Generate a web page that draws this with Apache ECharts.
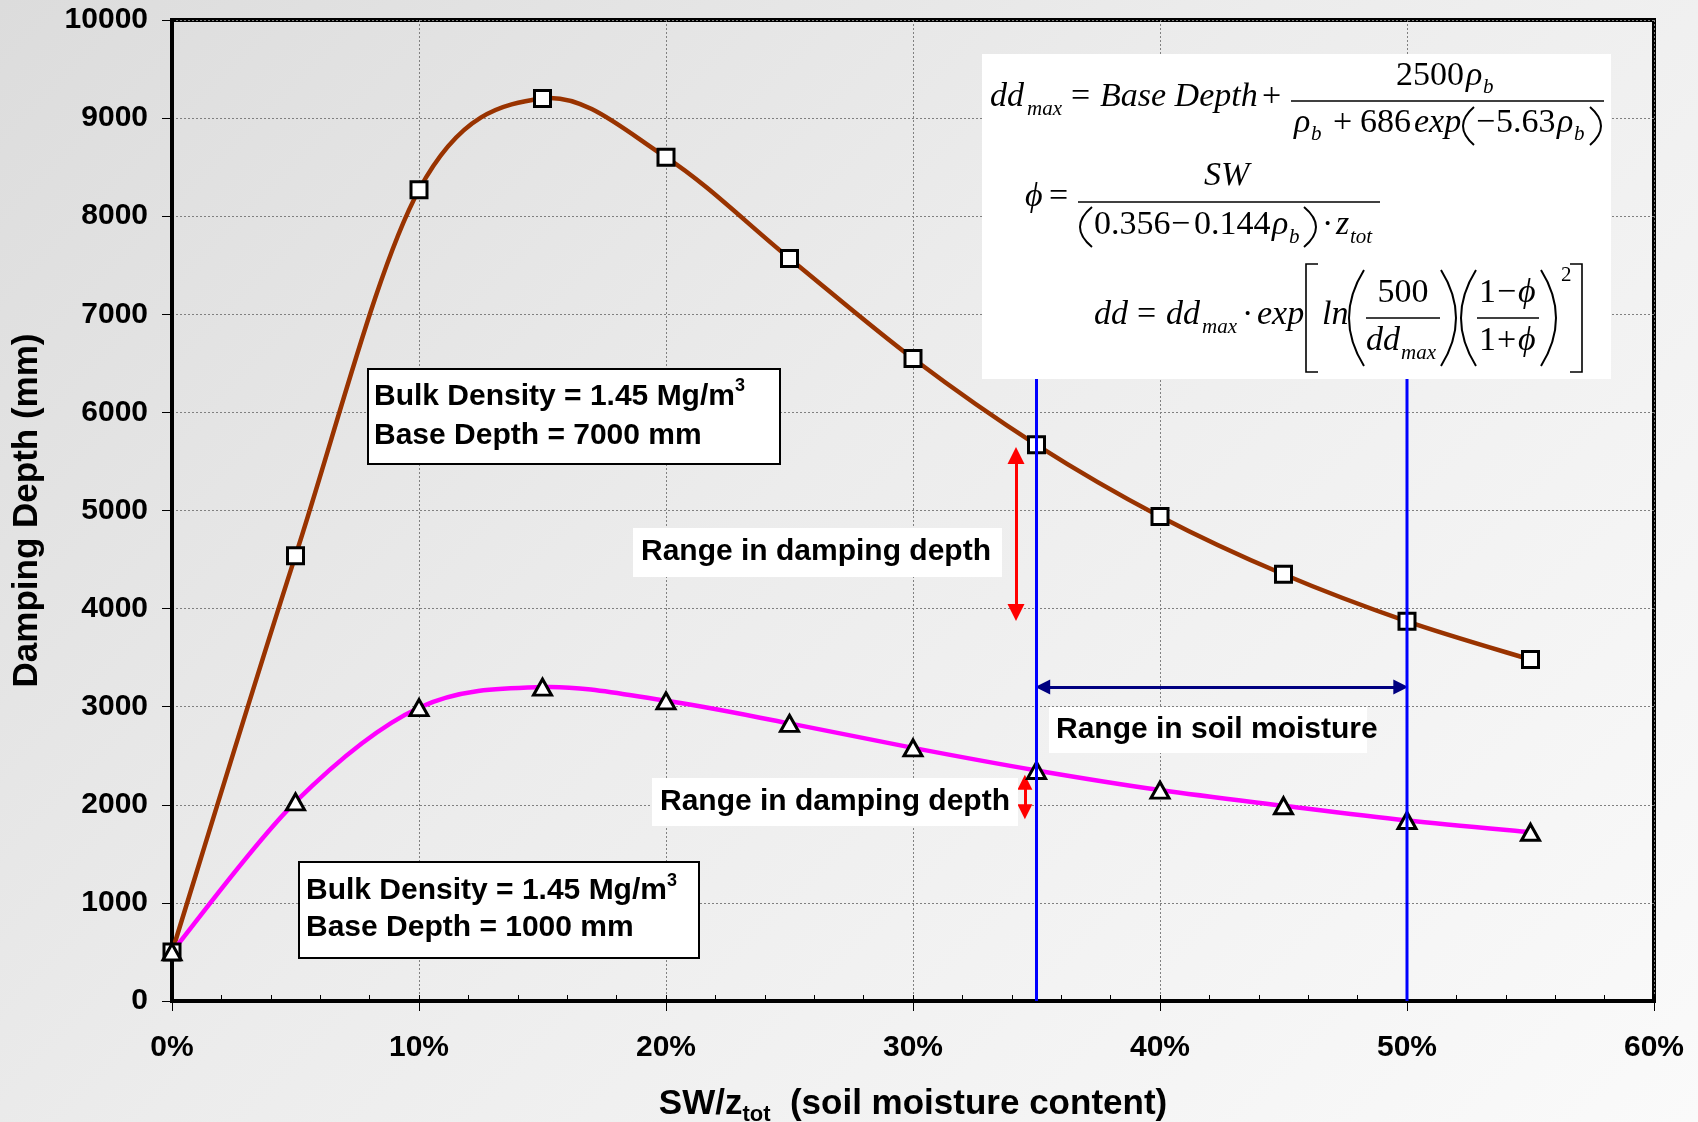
<!DOCTYPE html>
<html>
<head>
<meta charset="utf-8">
<script src="https://cdn.jsdelivr.net/npm/echarts/dist/echarts.min.js"></script>
<style>
html,body{margin:0;padding:0;}
#c{width:1698px;height:1122px;background:linear-gradient(135deg,#dcdcdc 0%,#ececec 45%,#fafafa 100%);}
</style>
</head>
<body>
<div id="c"></div>
<script>
// ---------------- data ----------------
const moisturePct = [0, 5, 10, 15, 20, 25, 30, 35, 40, 45, 50, 55];
const depthBase7000 = [500, 4540, 8270, 9200, 8600, 7570, 6550, 5670, 4940, 4350, 3870, 3480];
const depthBase1000 = [500, 2030, 2990, 3200, 3060, 2830, 2580, 2350, 2150, 1990, 1840, 1720];
const xTickValues = [0, 10, 20, 30, 40, 50, 60];
const xTickLabels = ['0%', '10%', '20%', '30%', '40%', '50%', '60%'];
const yTickValues = [0, 1000, 2000, 3000, 4000, 5000, 6000, 7000, 8000, 9000, 10000];
const moistureRange = [35, 50];          // blue vertical lines (%)
const blueLineTop = 6400;                // hidden under the equation box
const soilArrow = [35.25, 49.75, 3200];  // x from, x to, y
const upperDepthArrow = [34.17, 5560, 3960]; // x, y from, y to
const lowerDepthArrow = [34.53, 2230, 1930];

// ---------------- helpers ----------------
const SANS = '"Liberation Sans", Arial, sans-serif';
const SERIF = '"Liberation Serif", "Times New Roman", "DejaVu Serif", serif';
function pairs(xs, ys) { return xs.map((x, i) => [x, ys[i]]); }

const G = [];
function t(x, base, s, size, it, align) {
  G.push({type: 'text', x: x, y: base - 0.34 * size, z: 101,
    style: {text: s, fontFamily: SERIF, fontSize: size, fontStyle: it ? 'italic' : 'normal',
      fill: '#000', align: align || 'left', verticalAlign: 'middle'}});
}
function bar(x1, x2, y) {
  G.push({type: 'line', z: 101, shape: {x1: x1, y1: y, x2: x2, y2: y}, style: {stroke: '#000', lineWidth: 1.6}});
}
function lp(xl, xr, y1, y2) {
  G.push({type: 'bezierCurve', z: 101, shape: {x1: xr, y1: y1, x2: xr, y2: y2, cpx1: 2 * xl - xr, cpy1: (y1 + y2) / 2},
    style: {stroke: '#000', lineWidth: 2, fill: 'none'}});
}
function rp(xl, xr, y1, y2) {
  G.push({type: 'bezierCurve', z: 101, shape: {x1: xl, y1: y1, x2: xl, y2: y2, cpx1: 2 * xr - xl, cpy1: (y1 + y2) / 2},
    style: {stroke: '#000', lineWidth: 2, fill: 'none'}});
}
function lb(x, w, y1, y2) {
  G.push({type: 'polyline', z: 101, shape: {points: [[x + w, y1], [x, y1], [x, y2], [x + w, y2]]},
    style: {stroke: '#000', lineWidth: 1.6, fill: 'none'}});
}
function rb(x, w, y1, y2) {
  G.push({type: 'polyline', z: 101, shape: {points: [[x - w, y1], [x, y1], [x, y2], [x - w, y2]]},
    style: {stroke: '#000', lineWidth: 1.6, fill: 'none'}});
}
function whiteBox(x, y, w, h, border) {
  G.push({type: 'rect', z: 100, shape: {x: x, y: y, width: w, height: h},
    style: {fill: '#fff', stroke: border ? '#000' : null, lineWidth: border ? 2 : 0}});
}
function label(x, y, s, size) {
  G.push({type: 'text', x: x, y: y, z: 101,
    style: {text: s, fontFamily: SANS, fontSize: size, fontWeight: 'bold', fill: '#000', align: 'left', verticalAlign: 'middle'}});
}
function infoBox(x, y, w, h, tx, ty, lh, line2) {
  whiteBox(x, y, w, h, true);
  G.push({type: 'text', x: tx, y: ty, z: 101,
    style: {text: '{a|Bulk Density = 1.45 Mg/m}{sup|3}\n{a|' + line2 + '}', verticalAlign: 'top', align: 'left',
      rich: {
        a: {fontFamily: SANS, fontSize: 30, fontWeight: 'bold', color: '#000', lineHeight: lh},
        sup: {fontFamily: SANS, fontSize: 18, fontWeight: 'bold', color: '#000', verticalAlign: 'top'}
      }}});
}

// ---------------- annotation boxes ----------------
infoBox(368, 369, 412, 95, 374, 377, 39, 'Base Depth = 7000 mm');
infoBox(299, 862, 400, 96, 306, 872, 37, 'Base Depth = 1000 mm');
whiteBox(633, 528, 369, 49, false);
label(641, 552, 'Range in damping depth', 30);
whiteBox(652, 778, 366, 48, false);
label(660, 802, 'Range in damping depth', 30);
whiteBox(1049, 707, 318, 46, false);
label(1056, 730, 'Range in soil moisture', 30);

// ---------------- equations ----------------
const PHI = 'ϕ';
whiteBox(982, 54, 629, 325, false);
// line 1
t(990, 109, 'dd', 34, true);
t(1027, 117, 'max', 21, true);
t(1071, 109, '=', 34, false);
t(1100, 109, 'Base Depth', 34, true);
t(1262, 109, '+', 34, false);
bar(1291, 1604, 101);
t(1396, 88, '2500', 34, false);
t(1466, 88, 'ρ', 34, true);
t(1483, 95, 'b', 21, true);
t(1294, 135, 'ρ', 34, true);
t(1311, 142, 'b', 21, true);
t(1333, 135, '+', 34, false);
t(1360, 135, '686', 34, false);
t(1414, 135, 'exp', 34, true);
lp(1463, 1474, 107, 145);
t(1476, 135, '−', 34, false);
t(1496, 135, '5.63', 34, false);
t(1557, 135, 'ρ', 34, true);
t(1574, 142, 'b', 21, true);
rp(1590, 1601, 107, 145);
// line 2
t(1025, 209, PHI, 34, true);
t(1049, 209, '=', 34, false);
bar(1078, 1380, 202);
t(1204, 188, 'SW', 34, true);
lp(1080, 1092, 207, 247);
t(1094, 237, '0.356', 34, false);
t(1171, 237, '−', 34, false);
t(1194, 237, '0.144', 34, false);
t(1272, 237, 'ρ', 34, true);
t(1289, 245, 'b', 21, true);
rp(1304, 1316, 207, 247);
t(1322, 237, '·', 34, false);
t(1336, 237, 'z', 34, true);
t(1350, 245, 'tot', 21, true);
// line 3
t(1094, 327, 'dd', 34, true);
t(1137, 327, '=', 34, false);
t(1166, 327, 'dd', 34, true);
t(1202, 335, 'max', 21, true);
t(1242, 327, '·', 34, false);
t(1257, 327, 'exp', 34, true);
lb(1306, 12, 264, 372);
t(1322, 327, 'ln', 34, true);
lp(1349, 1364, 270, 366);
t(1403, 305, '500', 34, false, 'center');
bar(1366, 1440, 318);
t(1366, 353, 'dd', 34, true);
t(1401, 361, 'max', 21, true);
rp(1441, 1456, 270, 366);
lp(1461, 1476, 270, 366);
t(1479, 305, '1', 34, false);
t(1497, 305, '−', 34, false);
t(1518, 305, PHI, 34, true);
bar(1477, 1539, 318);
t(1479, 353, '1', 34, false);
t(1497, 353, '+', 34, false);
t(1518, 353, PHI, 34, true);
rp(1541, 1556, 270, 366);
t(1561, 283, '2', 21, false);
rb(1582, 12, 264, 372);

// ---------------- chart ----------------
const chart = echarts.init(document.getElementById('c'), null, {renderer: 'canvas'});

function arrowSeries(from, to, color, size) {
  return {
    type: 'line', data: [], silent: true, z: 8,
    markLine: {
      silent: true, animation: false,
      symbol: ['triangle', 'triangle'], symbolSize: size,
      label: {show: false},
      lineStyle: {color: color, width: 3, type: 'solid'},
      emphasis: {disabled: true},
      data: [[{coord: from}, {coord: to}]]
    }
  };
}

// smooth curve (Excel-style Catmull-Rom) drawn through the library's coordinate system
function curveSeries(ys, color, z) {
  return {
    type: 'custom', coordinateSystem: 'cartesian2d', silent: true, z: z, clip: false,
    data: [[moisturePct[0], ys[0]]],
    encode: {x: 0, y: 1},
    renderItem: function (params, api) {
      const P = moisturePct.map((x, i) => api.coord([x, ys[i]]));
      const children = [];
      for (let i = 0; i < P.length - 1; i++) {
        const p0 = P[i - 1] || P[i], p1 = P[i], p2 = P[i + 1], p3 = P[i + 2] || P[i + 1];
        children.push({type: 'bezierCurve', shape: {
          x1: p1[0], y1: p1[1], x2: p2[0], y2: p2[1],
          cpx1: p1[0] + (p2[0] - p0[0]) / 6, cpy1: p1[1] + (p2[1] - p0[1]) / 6,
          cpx2: p2[0] - (p3[0] - p1[0]) / 6, cpy2: p2[1] - (p3[1] - p1[1]) / 6},
          style: {stroke: color, lineWidth: 4.5, fill: 'none', lineCap: 'round'}});
      }
      return {type: 'group', children: children};
    }
  };
}

const option = {
  animation: false,
  backgroundColor: 'transparent',
  textStyle: {fontFamily: SANS},
  grid: {left: 172, right: 44, top: 20, bottom: 121, show: true, borderColor: '#000', borderWidth: 4,
    backgroundColor: 'transparent', containLabel: false, outerBoundsMode: 'none'},
  xAxis: [{
    type: 'value', min: 0, max: 60, interval: 10,
    axisLine: {show: true, onZero: false, lineStyle: {color: '#000', width: 4}},
    axisTick: {show: true, length: 10, lineStyle: {color: '#000', width: 1}},
    axisLabel: {formatter: v => xTickLabels[xTickValues.indexOf(v)], fontSize: 30, fontWeight: 'bold', color: '#000', margin: 32, fontFamily: SANS},
    splitLine: {show: true, lineStyle: {color: '#808080', width: 1, type: [2, 2]}},
    name: '{a|SW/z}{s|tot}{a|  (soil moisture content)}',
    nameLocation: 'middle', nameGap: 81, nameMoveOverlap: false,
    nameTextStyle: {rich: {
      a: {fontFamily: SANS, fontSize: 35, fontWeight: 'bold', color: '#000', lineHeight: 44},
      s: {fontFamily: SANS, fontSize: 22, fontWeight: 'bold', color: '#000', verticalAlign: 'bottom'}
    }}
  }, {
    type: 'value', min: 0, max: 60, interval: 2, position: 'bottom', gridIndex: 0,
    axisLine: {show: false}, axisLabel: {show: false}, splitLine: {show: false},
    axisTick: {show: true, inside: true, length: 6, lineStyle: {color: '#000', width: 1}}
  }],
  yAxis: {
    type: 'value', min: 0, max: 10000, interval: 1000,
    axisLine: {show: true, onZero: false, lineStyle: {color: '#000', width: 4}},
    axisTick: {show: true, length: 10, lineStyle: {color: '#000', width: 1}},
    axisLabel: {fontSize: 30, fontWeight: 'bold', color: '#000', margin: 24, fontFamily: SANS,
      formatter: v => String(yTickValues[yTickValues.indexOf(v)])},
    splitLine: {show: true, lineStyle: {color: '#808080', width: 1, type: [2, 2]}},
    name: 'Damping Depth (mm)', nameLocation: 'middle', nameGap: 127, nameMoveOverlap: false,
    nameTextStyle: {fontFamily: SANS, fontSize: 35, fontWeight: 'bold', color: '#000'}
  },
  series: [
    curveSeries(depthBase7000, '#993300', 3),
    curveSeries(depthBase1000, '#ff00ff', 4),
    {
      type: 'scatter', name: 'Base Depth 7000 mm', data: pairs(moisturePct, depthBase7000),
      symbol: 'rect', symbolSize: 16, z: 5, silent: true,
      itemStyle: {color: '#ffffff', borderColor: '#000', borderWidth: 3, opacity: 1}
    },
    {
      type: 'scatter', name: 'Base Depth 1000 mm', data: pairs(moisturePct, depthBase1000),
      symbol: 'triangle', symbolSize: [18, 16], z: 6, silent: true,
      itemStyle: {color: '#ffffff', borderColor: '#000', borderWidth: 3, opacity: 1}
    },
    {
      type: 'line', data: [[moistureRange[0], 0], [moistureRange[0], blueLineTop]], symbol: 'none', z: 7, silent: true,
      lineStyle: {color: '#0000ff', width: 3}
    },
    {
      type: 'line', data: [[moistureRange[1], 0], [moistureRange[1], blueLineTop]], symbol: 'none', z: 7, silent: true,
      lineStyle: {color: '#0000ff', width: 3}
    },
    arrowSeries([soilArrow[0], soilArrow[2]], [soilArrow[1], soilArrow[2]], '#000080', 15),
    arrowSeries([upperDepthArrow[0], upperDepthArrow[1]], [upperDepthArrow[0], upperDepthArrow[2]], '#ff0000', 17),
    arrowSeries([lowerDepthArrow[0], lowerDepthArrow[1]], [lowerDepthArrow[0], lowerDepthArrow[2]], '#ff0000', 15)
  ],
  graphic: {elements: G}
};
chart.setOption(option);
</script>
</body>
</html>
